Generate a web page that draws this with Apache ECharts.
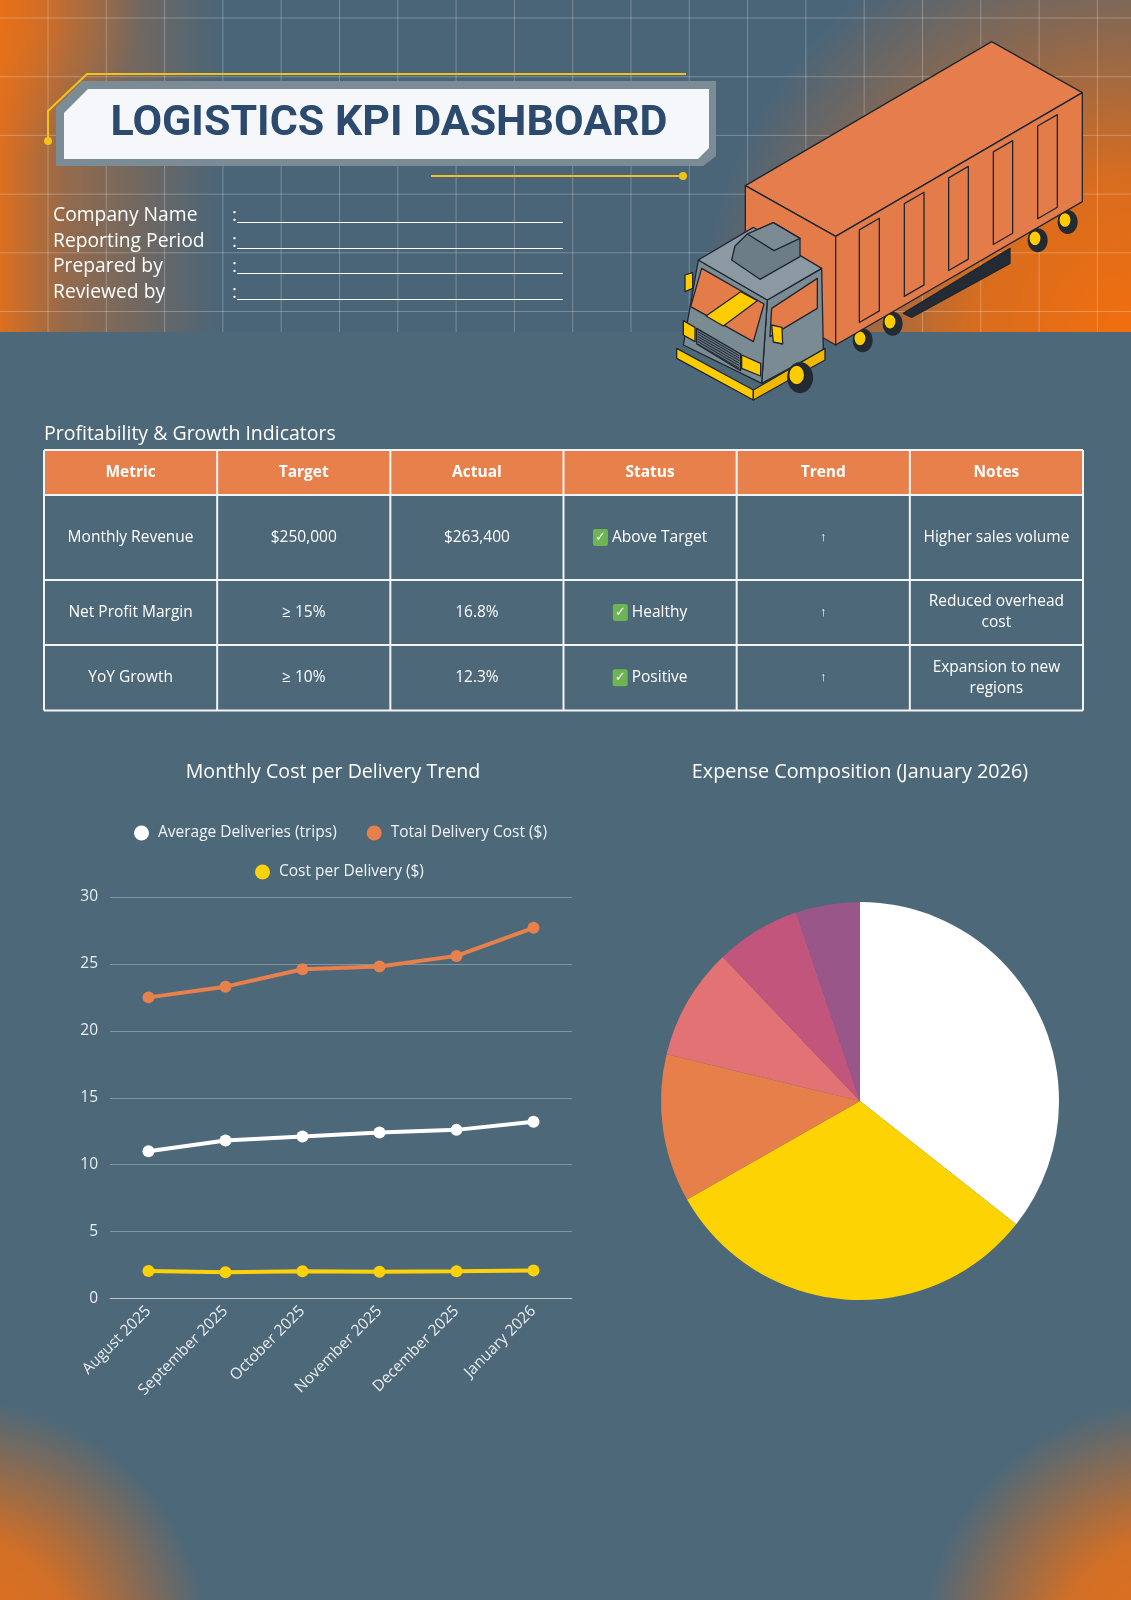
<!DOCTYPE html>
<html>
<head>
<meta charset="utf-8">
<script src="https://cdn.jsdelivr.net/npm/echarts@6/dist/echarts.min.js"></script>
<style>
  html, body { margin: 0; padding: 0; background: #4d6879; }
  #main { width: 1131px; height: 1600px; }
</style>
</head>
<body>
<div id="main"></div>
<script>
// ---- data ----
const formLabels = ['Company Name', 'Reporting Period', 'Prepared by', 'Reviewed by'];

const tableHeaders = ['Metric', 'Target', 'Actual', 'Status', 'Trend', 'Notes'];
const metrics = ['Monthly Revenue', 'Net Profit Margin', 'YoY Growth'];
const targets = ['$250,000', '≥ 15%', '≥ 10%'];
const actuals = ['$263,400', '16.8%', '12.3%'];
const statuses = ['Above Target', 'Healthy', 'Positive'];
const trends = ['↑', '↑', '↑'];
const notes = ['Higher sales volume', 'Reduced overhead\ncost', 'Expansion to new\nregions'];

const months = ['August 2025', 'September 2025', 'October 2025', 'November 2025', 'December 2025', 'January 2026'];
const avgDeliveries = [11.0, 11.8, 12.1, 12.4, 12.6, 13.2];
const totalCost = [22.5, 23.3, 24.6, 24.8, 25.6, 27.7];
const costPerDelivery = [2.05, 1.97, 2.03, 2.0, 2.03, 2.1];

const expenseNames = ['Fuel', 'Driver Wages', 'Maintenance', 'Insurance', 'Tolls & Fees', 'Other'];
const expenseShares = [35.6, 31.1, 12.0, 9.1, 6.9, 5.2];

const FONT = '"Open Sans", "Noto Sans", sans-serif';
const SLATE = '#4d6879';
const ORANGE = '#e8804c';
const YELLOW = '#fdd20b';
const INK = '#1f2630';

var chart = echarts.init(document.getElementById('main'), null, { renderer: 'canvas' });

// ---- helpers ----
function radial(cx, cy, r, rgb, a0, mid) {
  return {
    type: 'radial', x: cx, y: cy, r: r, global: true,
    colorStops: [
      { offset: 0, color: 'rgba(' + rgb + ',' + a0 + ')' },
      { offset: mid || 0.35, color: 'rgba(' + rgb + ',' + (a0 * 0.85) + ')' },
      { offset: 1, color: 'rgba(' + rgb + ',0)' }
    ]
  };
}
function txt(x, y, text, size, opts) {
  opts = opts || {};
  return {
    type: 'text', x: x, y: y, z: opts.z || 5,
    style: {
      text: text, fill: opts.color || '#ffffff',
      font: (opts.weight || 'normal') + ' ' + size + 'px ' + FONT,
      textAlign: opts.align || 'left', align: opts.align || 'left',
      textVerticalAlign: 'middle', verticalAlign: 'middle',
      lineHeight: opts.lineHeight, rich: opts.rich
    }
  };
}
function line(x1, y1, x2, y2, color, w, z) {
  return { type: 'line', z: z || 1, shape: { x1: x1, y1: y1, x2: x2, y2: y2 }, style: { stroke: color, lineWidth: w } };
}
// truck drawn on a local 3x grid, origin at (670,30)
function T(pts) { return pts.map(function (p) { return [670 + p[0] / 3, 30 + p[1] / 3]; }); }
function poly(pts, fill, z) {
  return { type: 'polygon', z: z || 3, shape: { points: T(pts) }, style: { fill: fill, stroke: INK, lineWidth: 1.3, lineJoin: 'round' } };
}
function wheel(cx, cy, s, z) {
  return [
    { type: 'ellipse', z: z || 3, shape: { cx: 670 + (cx + 8 * s) / 3, cy: 30 + (cy + 6 * s) / 3, rx: 10 * s, ry: 12 * s }, style: { fill: '#232a34' } },
    { type: 'ellipse', z: z || 3, shape: { cx: 670 + cx / 3, cy: 30 + cy / 3, rx: 6.2 * s, ry: 7.6 * s }, style: { fill: '#ffcc00', stroke: INK, lineWidth: 1.5 } }
  ];
}

var els = [];

// ---- background ----
els.push({ type: 'rect', z: -10, shape: { x: 0, y: 0, width: 1131, height: 1600 }, style: { fill: SLATE } });
els.push({ type: 'rect', z: -9, shape: { x: 0, y: 0, width: 1131, height: 332 }, style: { fill: '#4b6578' } });
els.push({ type: 'rect', z: -8, shape: { x: 0, y: 0, width: 1131, height: 332 }, style: { fill: radial(1131, 332, 430, '242,110,14', 1) } });
els.push({ type: 'rect', z: -8, shape: { x: 0, y: 0, width: 220, height: 332 }, style: { fill: {
  type: 'linear', x: 0, y: 0, x2: 1, y2: 0,
  colorStops: [{ offset: 0, color: 'rgba(236,112,22,0.9)' }, { offset: 0.3, color: 'rgba(236,112,22,0.45)' }, { offset: 1, color: 'rgba(236,112,22,0)' }] } } });
els.push({ type: 'rect', z: -8, shape: { x: 0, y: 0, width: 1131, height: 332 }, style: { fill: radial(-10, 10, 150, '236,112,22', 0.7, 0.3) } });
els.push({ type: 'rect', z: -8, shape: { x: 0, y: 1300, width: 330, height: 300 }, style: { fill: radial(-40, 1650, 250, '232,112,24', 1, 0.45) } });
els.push({ type: 'rect', z: -8, shape: { x: 801, y: 1300, width: 330, height: 300 }, style: { fill: radial(1171, 1650, 250, '232,112,24', 1, 0.45) } });
// header grid
for (var gx = 48; gx < 1131; gx += 58.3) els.push(line(gx, 0, gx, 332, 'rgba(255,255,255,0.26)', 1, -7));
for (var gy = 18; gy < 332; gy += 58.7) els.push(line(0, gy, 1131, gy, 'rgba(255,255,255,0.26)', 1, -7));

// ---- title box ----
els.push({ type: 'polygon', z: 2, shape: { points: [[82, 81], [716, 81], [716, 156], [703, 166], [56, 166], [56, 107]] }, style: { fill: '#7c8c96' } });
els.push({ type: 'polygon', z: 2, shape: { points: [[88, 89], [709, 89], [709, 148], [698, 159], [64, 159], [64, 113]] }, style: { fill: '#f5f7fb' } });
els.push({ type: 'polyline', z: 2, shape: { points: [[48, 141], [48, 111], [87, 74], [686, 74]] }, style: { stroke: '#f2c21a', lineWidth: 2, fill: null } });
els.push({ type: 'circle', z: 2, shape: { cx: 48, cy: 141, r: 4 }, style: { fill: '#f2c21a' } });
els.push(line(431, 176, 682, 176, '#f2c21a', 2, 2));
els.push({ type: 'circle', z: 2, shape: { cx: 683, cy: 176, r: 4 }, style: { fill: '#f2c21a' } });
els.push({
  type: 'text', x: 389, y: 124, z: 5,
  style: { text: 'LOGISTICS KPI DASHBOARD', fill: '#2c4a6e', font: 'bold 43px Roboto, "Open Sans", sans-serif',
    textAlign: 'center', align: 'center', textVerticalAlign: 'middle', verticalAlign: 'middle' }
});

// ---- form fields ----
var formY = [216, 242, 267, 293];
formLabels.forEach(function (lab, i) {
  els.push(txt(53, formY[i], lab, 19.3));
  els.push(txt(232, formY[i], ':', 19));
  els.push(line(237, formY[i] + 6.5, 563, formY[i] + 6.5, '#ffffff', 1.2, 2));
});

// ---- truck ----
[[570, 925], [660, 875], [1095, 625], [1185, 570]].forEach(function (w) { els = els.concat(wheel(w[0], w[1], 1, 3)); });
els.push(poly([[700, 850], [1020, 655], [1020, 700], [725, 862]], '#252b35', 3));
els.push(poly([[226, 467], [965, 35], [1237, 188], [497, 619]], '#e57e4c', 4));
els.push(poly([[226, 467], [497, 619], [497, 945], [226, 790]], '#e47c4a', 4));
els.push(poly([[497, 619], [1237, 188], [1237, 515], [497, 945]], '#e47c4a', 4));
[[568, 628], [703, 762], [836, 895], [970, 1028], [1103, 1162]].forEach(function (p) {
  var t1 = 619 - 0.5824 * (p[0] - 497) + 22, t2 = 619 - 0.5824 * (p[1] - 497) + 22;
  var b1 = 945 - 0.5824 * (p[0] - 497) - 26, b2 = 945 - 0.5824 * (p[1] - 497) - 26;
  els.push(poly([[p[0], t1], [p[1], t2], [p[1], b2], [p[0], b1]], '#e47c4a', 5));
});
// cab
els.push(poly([[292, 810], [455, 715], [460, 960], [275, 1060]], '#7b8b94', 6));
els.push(poly([[85, 690], [292, 810], [275, 1060], [40, 945]], '#7b8b94', 6));
els.push(poly([[85, 690], [250, 592], [455, 715], [292, 810]], '#8a99a2', 6));
els.push(poly([[185, 690], [195, 648], [232, 612], [310, 578], [390, 625], [390, 680], [270, 748]], '#6d7d87', 7));
els.push(poly([[232, 612], [310, 578], [390, 625], [312, 662]], '#7b8b94', 7));
els.push(poly([[95, 715], [282, 822], [250, 935], [62, 830]], '#e47c4a', 7));
els.push(poly([[108, 858], [212, 785], [262, 812], [160, 888]], '#ffcc00', 8));
els.push(poly([[305, 835], [442, 745], [442, 835], [300, 920]], '#e47c4a', 7));
els.push(poly([[80, 895], [212, 972], [212, 1022], [80, 942]], '#66767f', 7));
for (var gl = 0; gl < 6; gl++) {
  els.push({ type: 'line', z: 8, shape: { x1: 670 + 84 / 3, y1: 30 + (905 + gl * 7.5) / 3, x2: 670 + 208 / 3, y2: 30 + (977 + gl * 7.5) / 3 }, style: { stroke: INK, lineWidth: 1 } });
}
els.push(poly([[40, 872], [75, 892], [75, 935], [40, 915]], '#ffcc00', 8));
els.push(poly([[215, 975], [272, 1000], [272, 1038], [215, 1015]], '#ffcc00', 8));
els.push(poly([[45, 735], [68, 728], [68, 775], [45, 785]], '#ffcc00', 8));
els.push(poly([[20, 955], [250, 1080], [250, 1110], [20, 985]], '#ffcc00', 8));
els.push(poly([[250, 1080], [465, 955], [465, 990], [250, 1110]], '#f2b800', 8));
els.push(poly([[305, 885], [336, 892], [338, 942], [310, 936]], '#ffcc00', 9));
els = els.concat(wheel(380, 1035, 1.3, 9));

// ---- KPI table ----
var tLeft = 44, tRight = 1083, colW = (tRight - tLeft) / 6;
var rowEdges = [450, 495, 580, 645, 710.5];
els.push(txt(44, 434, 'Profitability & Growth Indicators', 19.5));
els.push({ type: 'rect', z: 2, shape: { x: tLeft, y: rowEdges[0], width: tRight - tLeft, height: rowEdges[1] - rowEdges[0] }, style: { fill: ORANGE } });
rowEdges.forEach(function (y) { els.push(line(tLeft, y, tRight, y, '#f2f4f6', 2, 3)); });
for (var c = 0; c <= 6; c++) els.push(line(tLeft + c * colW, rowEdges[0], tLeft + c * colW, rowEdges[4], '#f2f4f6', 2, 3));
tableHeaders.forEach(function (h, c) {
  els.push(txt(tLeft + (c + 0.5) * colW, (rowEdges[0] + rowEdges[1]) / 2, h, 15.5, { align: 'center', weight: 'bold' }));
});
var chkRich = { chk: { backgroundColor: '#6cb552', fill: '#ffffff', borderRadius: 2, width: 15, height: 17, align: 'center', font: 'bold 13px "DejaVu Sans", sans-serif' },
  t: { fill: '#ffffff', font: '15.5px ' + FONT } };
metrics.forEach(function (m, r) {
  var cy = (rowEdges[r + 1] + rowEdges[r + 2]) / 2;
  var cols = [m, targets[r], actuals[r]];
  cols.forEach(function (v, c) { els.push(txt(tLeft + (c + 0.5) * colW, cy, v, 15.5, { align: 'center' })); });
  els.push(txt(tLeft + 3.5 * colW, cy, '{chk|✓}{t| ' + statuses[r] + '}', 15.5, { align: 'center', rich: chkRich }));
  els.push(txt(tLeft + 4.5 * colW, cy, trends[r], 13, { align: 'center' }));
  els.push(txt(tLeft + 5.5 * colW, cy, notes[r], 15.5, { align: 'center', lineHeight: 21 }));
});

// ---- chart titles ----
els.push(txt(333, 772, 'Monthly Cost per Delivery Trend', 19.6, { align: 'center' }));
els.push(txt(860, 772, 'Expense Composition (January 2026)', 19.8, { align: 'center' }));

var legendText = { color: '#f0f3f5', fontSize: 15.5, fontFamily: FONT, padding: [0, 0, 0, 4] };
var option = {
  animation: false,
  backgroundColor: SLATE,
  graphic: { elements: els },
  legend: [
    { data: ['Average Deliveries (trips)', 'Total Delivery Cost ($)'], left: 129, top: 820, icon: 'circle', itemWidth: 15, itemHeight: 15, itemGap: 30,
      textStyle: legendText },
    { data: ['Cost per Delivery ($)'], left: 250, top: 859, icon: 'circle', itemWidth: 15, itemHeight: 15,
      textStyle: legendText }
  ],
  grid: { left: 110, right: 559, top: 897, bottom: 301.5, containLabel: false },
  xAxis: {
    type: 'category', data: months, boundaryGap: true,
    axisLine: { show: true, lineStyle: { color: 'rgba(255,255,255,0.45)', width: 1 } },
    axisTick: { show: false },
    axisLabel: { rotate: 45, interval: 0, margin: 10, color: '#e8edf0', fontSize: 15.5, fontFamily: FONT }
  },
  yAxis: {
    type: 'value', min: 0, max: 30, interval: 5,
    axisLine: { show: false }, axisTick: { show: false },
    splitLine: { lineStyle: { color: 'rgba(255,255,255,0.3)', width: 1 } },
    axisLabel: { color: '#e8edf0', fontSize: 15.5, margin: 12, fontFamily: FONT }
  },
  series: [
    { name: 'Average Deliveries (trips)', type: 'line', data: avgDeliveries, symbol: 'circle', symbolSize: 12,
      lineStyle: { width: 4, color: '#ffffff' }, itemStyle: { color: '#ffffff' } },
    { name: 'Total Delivery Cost ($)', type: 'line', data: totalCost, symbol: 'circle', symbolSize: 12,
      lineStyle: { width: 4, color: ORANGE }, itemStyle: { color: ORANGE } },
    { name: 'Cost per Delivery ($)', type: 'line', data: costPerDelivery, symbol: 'circle', symbolSize: 12,
      lineStyle: { width: 4, color: YELLOW }, itemStyle: { color: YELLOW } },
    { name: 'Expense Composition', type: 'pie', center: [860, 1101], radius: 199, startAngle: 90, clockwise: true,
      data: expenseNames.map(function (n, i) { return { name: n, value: expenseShares[i] }; }),
      color: ['#ffffff', '#fdd303', '#e67f4a', '#e37274', '#c1557c', '#985689'],
      label: { show: false }, labelLine: { show: false }, emphasis: { disabled: true } }
  ]
};
chart.setOption(option);
</script>
</body>
</html>
